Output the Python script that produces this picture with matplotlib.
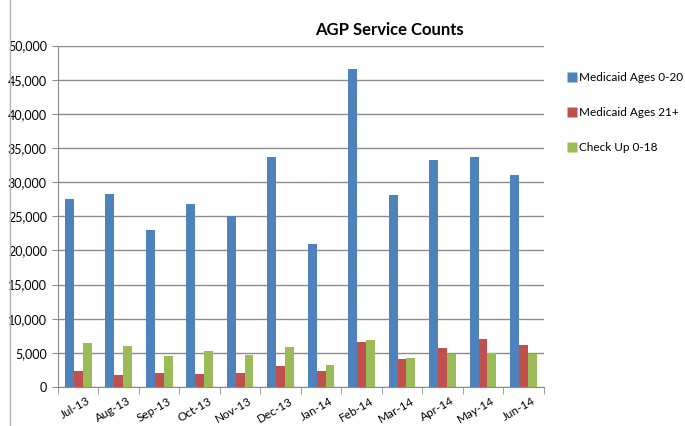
import numpy as np
import matplotlib
matplotlib.use("Agg")
import matplotlib.pyplot as plt
from matplotlib.ticker import FuncFormatter
from matplotlib.lines import Line2D
from matplotlib.transforms import ScaledTranslation

plt.rcParams['font.family'] = ['Lato', 'DejaVu Sans']

months = ['Jul-13', 'Aug-13', 'Sep-13', 'Oct-13', 'Nov-13', 'Dec-13',
          'Jan-14', 'Feb-14', 'Mar-14', 'Apr-14', 'May-14', 'Jun-14']
medicaid_0_20 = [27500, 28200, 23000, 26800, 25100, 33700,
                 21000, 46500, 28100, 33300, 33700, 31000]
medicaid_21 = [2400, 1800, 2000, 1950, 2000, 3100,
               2400, 6600, 4100, 5700, 7100, 6100]
checkup_0_18 = [6500, 6000, 4500, 5300, 4700, 5900,
                3200, 6900, 4300, 4900, 5000, 4900]

series = [('Medicaid Ages 0-20', medicaid_0_20, '#4F81BD'),
          ('Medicaid Ages 21+', medicaid_21, '#C0504D'),
          ('Check Up 0-18', checkup_0_18, '#9BBB59')]

fig = plt.figure(figsize=(6.85, 4.26), dpi=100)
ax = fig.add_axes([0.0847, 0.0915, 0.709, 0.8015])

x = np.arange(len(months))
w = 0.22
for i, (name, vals, col) in enumerate(series):
    ax.bar(x + (i - 1) * w, vals, w, color=col, edgecolor='none', zorder=3)

ax.set_xlim(-0.5, len(months) - 0.5)
ax.set_ylim(0, 50000)
ax.set_yticks(np.arange(0, 50001, 5000))
ax.yaxis.set_major_formatter(FuncFormatter(lambda v, p: '{:,.0f}'.format(v)))
ax.grid(axis='y', color='#8c8c8c', linewidth=1.0, zorder=0)

ax.set_xticks(x)
ax.set_xticklabels(months, rotation=30, ha='right', rotation_mode='anchor', fontsize=8.5)
ax.tick_params(axis='x', length=0, pad=6)
# nudge labels right so they end a little past the group centre
offset = ScaledTranslation(6 / 72, 0, fig.dpi_scale_trans)
for lab in ax.get_xticklabels():
    lab.set_transform(lab.get_transform() + offset)
ax.set_xticks(np.arange(-0.5, len(months)), minor=True)
ax.tick_params(axis='x', which='minor', length=5, color='#8c8c8c', direction='out')
ax.tick_params(axis='y', labelsize=9, length=4, color='#8c8c8c', pad=4)

for s in ['top', 'right']:
    ax.spines[s].set_visible(False)
for s in ['left', 'bottom']:
    ax.spines[s].set_color('#8c8c8c')

fig.text(0.568, 0.93, 'AGP Service Counts', ha='center', va='center',
         fontsize=12, fontweight='bold')

handles = [Line2D([], [], marker='s', linestyle='none', markersize=7,
                  markerfacecolor=col, markeredgecolor='none')
           for _, _, col in series]
leg = fig.legend(handles, [s[0] for s in series], loc='upper left',
                 bbox_to_anchor=(0.827, 0.831), frameon=False, fontsize=8.5,
                 labelspacing=2.05, handletextpad=0.1, handlelength=1.0,
                 borderpad=0, borderaxespad=0)

fig.add_artist(Line2D([0.015, 0.015], [0, 1], color='#b0b0b0', linewidth=1.0,
                      transform=fig.transFigure))

fig.savefig('out.png', dpi=100)
